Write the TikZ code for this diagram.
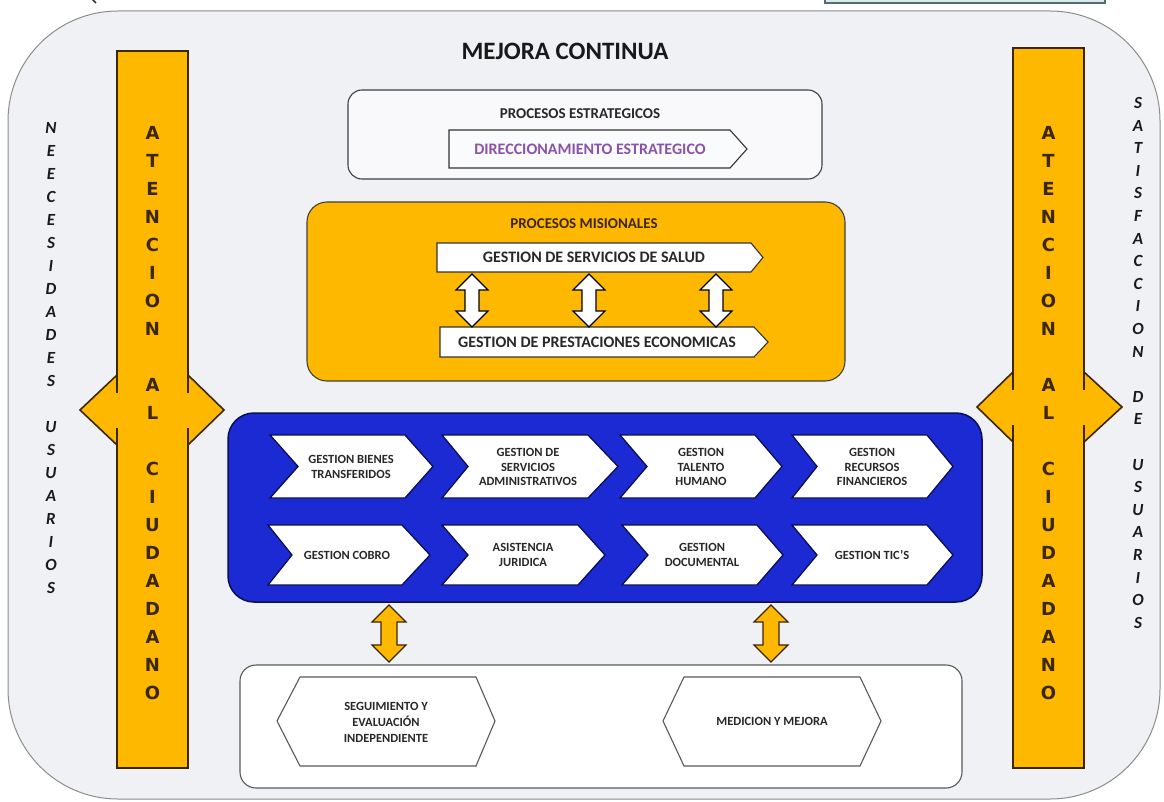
\documentclass[tikz,border=0pt]{standalone}
\usepackage{fontspec}
\setmainfont{Carlito}
\newfontfamily\colfont{DejaVu Sans}
\usetikzlibrary{calc}
\definecolor{orng}{RGB}{255,184,0}
\definecolor{blu}{RGB}{28,42,212}
\definecolor{bluedge}{RGB}{12,14,80}
\definecolor{bgc}{RGB}{239,241,245}
\definecolor{purp}{RGB}{140,82,170}
\definecolor{brn}{RGB}{60,38,8}
\definecolor{txt}{RGB}{40,40,40}
\definecolor{tealedge}{RGB}{80,110,116}
\definecolor{tealfill}{RGB}{222,232,234}
% vertical block double arrow between two named coordinates
% #1 top, #2 bottom, #3 head half width, #4 shaft half width, #5 head length, #6 style
\newcommand\myvarrow[6]{%
  \draw[#6] let \p1=(#1), \p2=(#2) in
    (\p1) -- (\x1+#3pt,\y1-#5pt) -- (\x1+#4pt,\y1-#5pt) -- (\x2+#4pt,\y2+#5pt)
    -- (\x2+#3pt,\y2+#5pt) -- (\p2) -- (\x2-#3pt,\y2+#5pt) -- (\x2-#4pt,\y2+#5pt)
    -- (\x1-#4pt,\y1-#5pt) -- (\x1-#3pt,\y1-#5pt) -- cycle;}
\begin{document}
\begin{tikzpicture}[x=1pt,y=-1pt,
  outerbox/.style={draw=black!45, fill=bgc, line width=1pt, rounded corners=110pt},
  panel/.style={draw=black!75, line width=1.1pt, rounded corners=#1},
  colshape/.style={draw=brn, fill=orng, line width=1.6pt, line join=miter},
  colletter/.style={inner sep=0pt, text=brn, font=\colfont\bfseries\fontsize{18}{18}\selectfont},
  sideletter/.style={inner sep=0pt, text=black!90, font=\bfseries\itshape\fontsize{17}{17}\selectfont},
  boxtitle/.style={inner sep=0pt, text=txt, font=\bfseries\fontsize{16}{16}\selectfont},
  banner/.style={draw=black!80, fill=white, line width=1.1pt},
  chev/.style={draw=bluedge, fill=white, line width=1.3pt, line join=miter},
  chevtext/.style={inner sep=0pt, align=center, text=txt, font=\bfseries\fontsize{12.5}{14.5}\selectfont},
  hex/.style={draw=black!65, fill=white, line width=1.1pt},
  hextext/.style={inner sep=0pt, align=center, text=txt, font=\bfseries\fontsize{12.5}{16}\selectfont},
  whitearrow/.style={draw=black, fill=white, line width=1.1pt, line join=miter},
  orangearrow/.style={draw=brn, fill=orng, line width=1.1pt, line join=miter}
]
\useasboundingbox (0,0) rectangle (1164,802);
\fill[white] (0,0) rectangle (1164,802);

% cut-off pieces at the top edge
\draw[draw=tealedge, fill=tealfill, line width=1.5pt] (825,-8) rectangle (1105,3);
\draw[black!80, line width=1.5pt] (91,-2) -- (96,3);

% outer frame
\draw[outerbox] (8,11) rectangle (1160,799);

% title
\node[inner sep=0pt, text=black!90, font=\bfseries\fontsize{25}{25}\selectfont] (title) at (565,51) {MEJORA CONTINUA};

% ---------- left column ----------
\draw[colshape] (117,51) -- (188,51) -- (188,375) -- (224,410) -- (188,445) -- (188,768)
  -- (117,768) -- (117,445) -- (80,410) -- (117,375) -- cycle;
\fill[orng] (118,376) rectangle (187,444);
\draw[brn, line width=1.6pt] (117,375) -- (117,393) (117,428) -- (117,445)
  (188,375) -- (188,393) (188,428) -- (188,445);
\foreach \c [count=\i from 0] in {A,T,E,N,C,I,O,N,{},A,L,{},C,I,U,D,A,D,A,N,O}
  \node[colletter] (lc\i) at (152.5,{133+28*\i}) {\c};

% ---------- right column ----------
\draw[colshape] (1013,48) -- (1084,48) -- (1084,372) -- (1122,407) -- (1084,442) -- (1084,768)
  -- (1013,768) -- (1013,442) -- (977,407) -- (1013,372) -- cycle;
\fill[orng] (1014,373) rectangle (1083,441);
\draw[brn, line width=1.6pt] (1013,372) -- (1013,390) (1013,425) -- (1013,442)
  (1084,372) -- (1084,390) (1084,425) -- (1084,442);
\foreach \c [count=\i from 0] in {A,T,E,N,C,I,O,N,{},A,L,{},C,I,U,D,A,D,A,N,O}
  \node[colletter] (rc\i) at (1048.5,{133+28*\i}) {\c};

% ---------- side texts ----------
\foreach \c [count=\i from 0] in {N,E,E,C,E,S,I,D,A,D,E,S,{},U,S,U,A,R,I,O,S}
  \node[sideletter] (ls\i) at (51,{128+23*\i}) {\c};
\foreach \c [count=\i from 0] in {S,A,T,I,S,F,A,C,C,I,O,N,{},D,E,{},U,S,U,A,R,I,O,S}
  \node[sideletter] (rs\i) at (1138,{103+22.6*\i}) {\c};

% ---------- strategic processes ----------
\draw[panel=14pt, fill=white!60!bgc] (348,90) rectangle (822,179);
\node[boxtitle, font=\bfseries\fontsize{15}{15}\selectfont] (pe) at (580,114) {PROCESOS ESTRATEGICOS};
\draw[banner, fill=white!70!bgc] (449,130) -- (730,130) -- (747,149) -- (730,168) -- (449,168) -- cycle;
\node[boxtitle, text=purp] (de) at (590,149) {DIRECCIONAMIENTO ESTRATEGICO};

% ---------- missional processes ----------
\draw[panel=20pt, fill=orng] (307,202) rectangle (845,381);
\node[boxtitle, text=brn, font=\bfseries\fontsize{15}{15}\selectfont] (pm) at (584,224) {PROCESOS MISIONALES};
\draw[banner] (437,243) -- (751,243) -- (763,257.5) -- (751,272) -- (437,272) -- cycle;
\node[boxtitle] (gs) at (594,257.5) {GESTION DE SERVICIOS DE SALUD};
\draw[banner] (440,327) -- (754,327) -- (768,342) -- (754,357) -- (440,357) -- cycle;
\node[boxtitle] (gp) at (597,342) {GESTION DE PRESTACIONES ECONOMICAS};
\coordinate (m1t) at (472,274); \coordinate (m1b) at (472,327);
\coordinate (m2t) at (589,274); \coordinate (m2b) at (589,327);
\coordinate (m3t) at (716,274); \coordinate (m3b) at (716,327);
\myvarrow{m1t}{m1b}{16}{7}{16}{whitearrow}
\myvarrow{m2t}{m2b}{16}{7}{16}{whitearrow}
\myvarrow{m3t}{m3b}{16}{7}{16}{whitearrow}

% ---------- support processes (blue) ----------
\draw[draw=bluedge, fill=blu, line width=1.5pt, rounded corners=26pt] (228,413) rectangle (982,602);
% row 1
\draw[chev] (270,435) -- (405,435) -- (433,466.5) -- (405,498) -- (270,498) -- (298,466.5) -- cycle;
\draw[chev] (442,435) -- (588,435) -- (618,466.5) -- (588,498) -- (442,498) -- (468,466.5) -- cycle;
\draw[chev] (620,435) -- (755,435) -- (782,466.5) -- (755,498) -- (620,498) -- (647,466.5) -- cycle;
\draw[chev] (792,435) -- (927,435) -- (953,466.5) -- (927,498) -- (792,498) -- (817,466.5) -- cycle;
\node[chevtext] (s1) at (351,467) {GESTION BIENES\\TRANSFERIDOS};
\node[chevtext] (s2) at (528,467) {GESTION DE\\SERVICIOS\\ADMINISTRATIVOS};
\node[chevtext] (s3) at (701,467) {GESTION\\TALENTO\\HUMANO};
\node[chevtext] (s4) at (872,467) {GESTION\\RECURSOS\\FINANCIEROS};
% row 2
\draw[chev] (268,525) -- (402,525) -- (430,555) -- (402,585) -- (268,585) -- (292,555) -- cycle;
\draw[chev] (442,525) -- (578,525) -- (605,555) -- (578,585) -- (442,585) -- (468,555) -- cycle;
\draw[chev] (622,525) -- (757,525) -- (783,555) -- (757,585) -- (622,585) -- (648,555) -- cycle;
\draw[chev] (792,525) -- (927,525) -- (953,555) -- (927,585) -- (792,585) -- (817,555) -- cycle;
\node[chevtext] (s5) at (347,555) {GESTION COBRO};
\node[chevtext] (s6) at (523,555) {ASISTENCIA\\JURIDICA};
\node[chevtext] (s7) at (702,555) {GESTION\\DOCUMENTAL};
\node[chevtext] (s8) at (872,555) {GESTION TIC'S};

% ---------- evaluation processes ----------
\draw[panel=16pt, draw=black!65, fill=white] (240,665) rectangle (962,788);
\draw[hex] (277,721) -- (300,677) -- (476,677) -- (495,721) -- (476,766) -- (300,766) -- cycle;
\node[hextext] (h1) at (386,722) {SEGUIMIENTO Y\\EVALUACIÓN\\INDEPENDIENTE};
\draw[hex] (663,721) -- (684,677) -- (860,677) -- (881,721) -- (860,766) -- (684,766) -- cycle;
\node[hextext] (h2) at (772,721) {MEDICION Y MEJORA};

\coordinate (b1t) at (389,605); \coordinate (b1b) at (389,662);
\coordinate (b2t) at (771,605); \coordinate (b2b) at (771,662);
\myvarrow{b1t}{b1b}{17}{8}{17}{orangearrow}
\myvarrow{b2t}{b2b}{17}{8}{17}{orangearrow}
\end{tikzpicture}
\end{document}
